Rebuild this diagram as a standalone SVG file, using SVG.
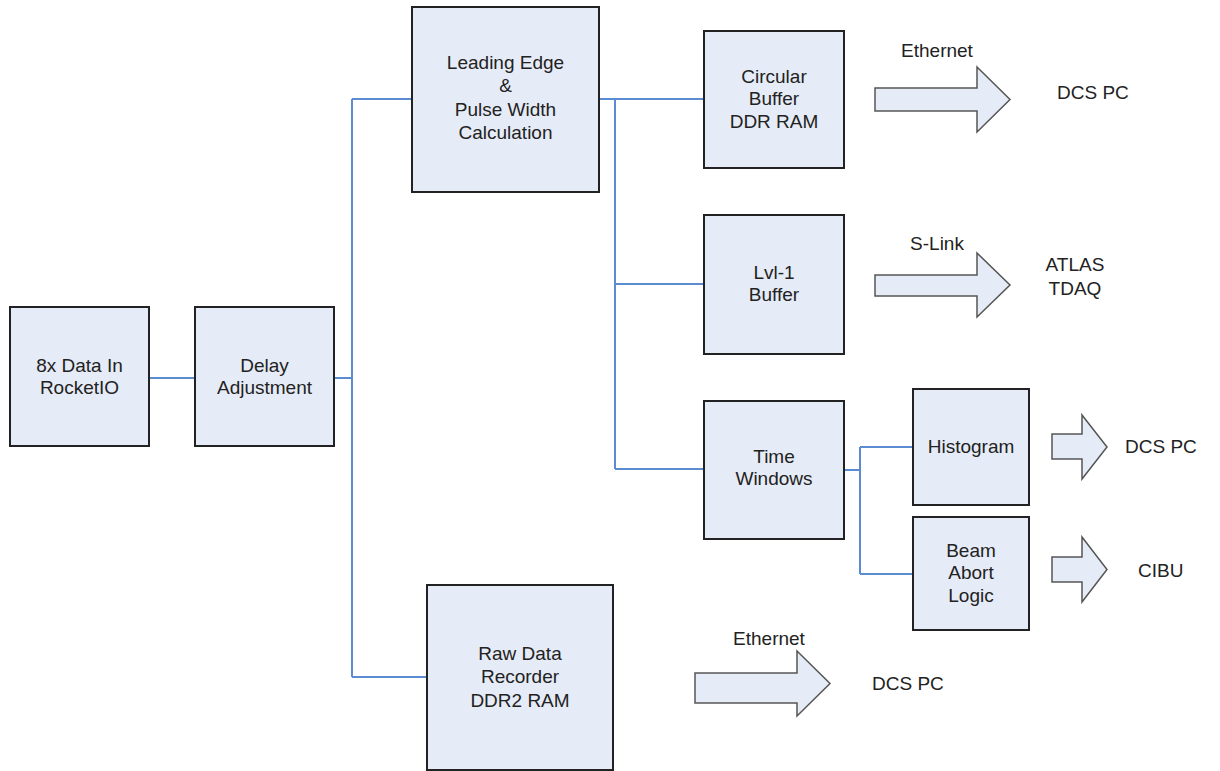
<svg xmlns="http://www.w3.org/2000/svg" width="1220" height="771" viewBox="0 0 1220 771">
  <style>
    .box { fill: #e6ecf7; stroke: #222; stroke-width: 2; }
    .wire { fill: none; stroke: #5b8bd0; stroke-width: 2; }
    .link { fill: #e6ecf7; stroke: #555; stroke-width: 1.5; stroke-linejoin: miter; }
    text { font-family: "Liberation Sans", Arial, sans-serif; font-size: 19px; fill: #222; }
    .c { text-anchor: middle; }
  </style>
  <rect width="1220" height="771" fill="#fff"/>

  <!-- connectors -->
  <g id="connectors">
    <path class="wire" d="M149,378 H195"/>
    <path class="wire" d="M334,378 H352"/>
    <path class="wire" d="M352,99 V677"/>
    <path class="wire" d="M352,99 H412"/>
    <path class="wire" d="M352,677 H427"/>
    <path class="wire" d="M599,99 H704"/>
    <path class="wire" d="M615,99 V469"/>
    <path class="wire" d="M615,284 H704"/>
    <path class="wire" d="M615,469 H704"/>
    <path class="wire" d="M844,470 H860"/>
    <path class="wire" d="M860,447 V574"/>
    <path class="wire" d="M860,447 H913"/>
    <path class="wire" d="M860,574 H913"/>
  </g>

  <g id="data-in">
    <rect class="box" x="10" y="307" width="139" height="139"/>
    <text class="c" x="79.5" y="372">8x Data In</text>
    <text class="c" x="79.5" y="394">RocketIO</text>
  </g>

  <g id="delay">
    <rect class="box" x="195" y="307" width="139" height="139"/>
    <text class="c" x="264.5" y="372">Delay</text>
    <text class="c" x="264.5" y="394">Adjustment</text>
  </g>

  <g id="leading-edge">
    <rect class="box" x="412" y="7" width="187" height="185"/>
    <text class="c" x="505.5" y="69">Leading Edge</text>
    <text class="c" x="505.5" y="92">&amp;</text>
    <text class="c" x="505.5" y="116">Pulse Width</text>
    <text class="c" x="505.5" y="139">Calculation</text>
  </g>

  <g id="raw-data">
    <rect class="box" x="427" y="585" width="186" height="185"/>
    <text class="c" x="520" y="660">Raw Data</text>
    <text class="c" x="520" y="683">Recorder</text>
    <text class="c" x="520" y="707">DDR2 RAM</text>
  </g>

  <g id="circular-buffer">
    <rect class="box" x="704" y="31" width="140" height="137"/>
    <text class="c" x="774" y="83">Circular</text>
    <text class="c" x="774" y="105">Buffer</text>
    <text class="c" x="774" y="128">DDR RAM</text>
  </g>

  <g id="lvl1-buffer">
    <rect class="box" x="704" y="215" width="140" height="139"/>
    <text class="c" x="774" y="279">Lvl-1</text>
    <text class="c" x="774" y="301">Buffer</text>
  </g>

  <g id="time-windows">
    <rect class="box" x="704" y="401" width="140" height="138"/>
    <text class="c" x="774" y="463">Time</text>
    <text class="c" x="774" y="485">Windows</text>
  </g>

  <g id="histogram">
    <rect class="box" x="913" y="389" width="116" height="116"/>
    <text class="c" x="971" y="453">Histogram</text>
  </g>

  <g id="beam-abort">
    <rect class="box" x="913" y="517" width="116" height="113"/>
    <text class="c" x="971" y="557">Beam</text>
    <text class="c" x="971" y="579">Abort</text>
    <text class="c" x="971" y="602">Logic</text>
  </g>

  <!-- outgoing links -->
  <g id="ethernet-top">
    <polygon class="link" points="875,88 977,88 977,67 1010,99.5 977,132 977,111 875,111"/>
    <text class="c" x="937" y="57">Ethernet</text>
    <text x="1057" y="99">DCS PC</text>
  </g>

  <g id="slink">
    <polygon class="link" points="875,275 977,275 977,253 1010,285 977,317 977,296 875,296"/>
    <text class="c" x="937" y="250">S-Link</text>
    <text class="c" x="1075" y="271">ATLAS</text>
    <text class="c" x="1075" y="295">TDAQ</text>
  </g>

  <g id="histogram-out">
    <polygon class="link" points="1052,434 1082,434 1082,415 1107,447 1082,479 1082,459 1052,459"/>
    <text x="1125" y="453">DCS PC</text>
  </g>

  <g id="cibu-out">
    <polygon class="link" points="1052,557 1082,557 1082,537 1107,569.5 1082,602 1082,582 1052,582"/>
    <text x="1138" y="577">CIBU</text>
  </g>

  <g id="ethernet-bottom">
    <polygon class="link" points="695,673 797,673 797,651 830,683.5 797,716 797,703 695,703"/>
    <text class="c" x="769" y="645">Ethernet</text>
    <text x="872" y="690">DCS PC</text>
  </g>
</svg>
